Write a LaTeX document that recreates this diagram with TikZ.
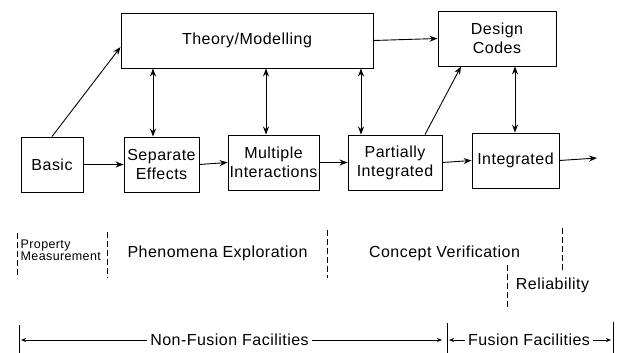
\documentclass[tikz,border=0pt]{standalone}
\usepackage{fontspec}
\setmainfont{Liberation Sans}[LetterSpace=3]
\usetikzlibrary{arrows.meta}
\begin{document}
\begin{tikzpicture}[x=1pt,y=-1pt,
  box/.style={draw,line width=0.9pt,inner sep=0pt,align=center,font=\fontsize{16}{19}\selectfont},
  lbl/.style={font=\fontsize{16}{19}\selectfont,inner sep=0pt},
  smalllbl/.style={font=\fontsize{12.5}{11}\selectfont,inner sep=0pt,align=left},
  arr/.style={line width=0.9pt,-{Stealth[length=8pt,width=6pt]}},
  darr/.style={line width=0.9pt,{Stealth[length=8pt,width=6pt]}-{Stealth[length=8pt,width=6pt]}},
  divider/.style={line width=0.8pt,dash pattern=on 6pt off 3pt},
  bar/.style={line width=0.9pt},
  tickarr/.style={line width=0.8pt,-{Stealth[length=5pt,width=4pt]}}]
\useasboundingbox (0,0) rectangle (621,353);

% boxes
\node[box,minimum width=252pt,minimum height=55pt] (theory) at (247,40.5) {Theory/Modelling};
\node[box,minimum width=118pt,minimum height=55pt] (design) at (497,38.5) {Design\\Codes};
\node[box,minimum width=62pt,minimum height=55pt] (basic) at (52,164.5) {Basic};
\node[box,minimum width=75pt,minimum height=55pt] (sep) at (161.5,164.5) {Separate\\Effects};
\node[box,minimum width=91pt,minimum height=55pt] (mult) at (273.5,162.5) {Multiple\\Interactions};
\node[box,minimum width=94pt,minimum height=55pt] (part) at (395,162.5) {Partially\\Integrated};
\node[box,minimum width=87pt,minimum height=55pt] (integ) at (515.5,160.5) {Integrated};
\coordinate (out) at (597,158);

% horizontal flow
\draw[arr] (basic.east) -- (sep.west);
\draw[arr] (sep.east) -- (mult.west);
\draw[arr] (mult.east) -- (part.west);
\draw[arr] (part.east) -- (integ.west);
\draw[arr] (integ.east) -- (out);

% upward links
\draw[arr] (basic.north) -- (theory.west |- 0,47);
\draw[arr] (theory.east) -- (design.west);
\draw[arr] (part.north -| 425,0) -- (design.south -| 461,0);

% double arrows
\draw[darr] (theory.south -| 153,0) -- (sep.north -| 153,0);
\draw[darr] (theory.south -| 266,0) -- (mult.north -| 266,0);
\draw[darr] (theory.south -| 361,0) -- (part.north -| 361,0);
\draw[darr] (design.south -| 515,0) -- (integ.north -| 515,0);

% phase labels
\node[smalllbl,anchor=west] (prop) at (20.5,250) {Property\\Measurement};
\node[lbl] (phen) at (217.5,253) {Phenomena Exploration};
\node[lbl] (conc) at (444.5,253) {Concept Verification};
\node[lbl] (rel) at (552.5,285) {Reliability};

\draw[divider] (17,233) -- (17,278);
\draw[divider] (107,232) -- (107,278);
\draw[divider] (327,230) -- (327,278);
\draw[divider] (562,228) -- (562,272);
\draw[divider] (507,265) -- (507,307);

% facilities row
\node[lbl] (nff) at (229.5,340) {Non-Fusion Facilities};
\node[lbl] (ff) at (529,340) {Fusion Facilities};
\coordinate (b1t) at (19,325); \coordinate (b1b) at (19,353);
\coordinate (b2t) at (447,323); \coordinate (b2b) at (447,353);
\coordinate (b3t) at (613,322); \coordinate (b3b) at (613,353);
\draw[bar] (b1t) -- (b1b);
\draw[bar] (b2t) -- (b2b);
\draw[bar] (b3t) -- (b3b);
\draw[tickarr] ([xshift=-3pt]nff.west) -- (21,340);
\draw[tickarr] ([xshift=3pt]nff.east) -- (442,340);
\draw[tickarr] ([xshift=-3pt]ff.west) -- (449,340);
\draw[tickarr] ([xshift=3pt]ff.east) -- (611,340);
\end{tikzpicture}
\end{document}
